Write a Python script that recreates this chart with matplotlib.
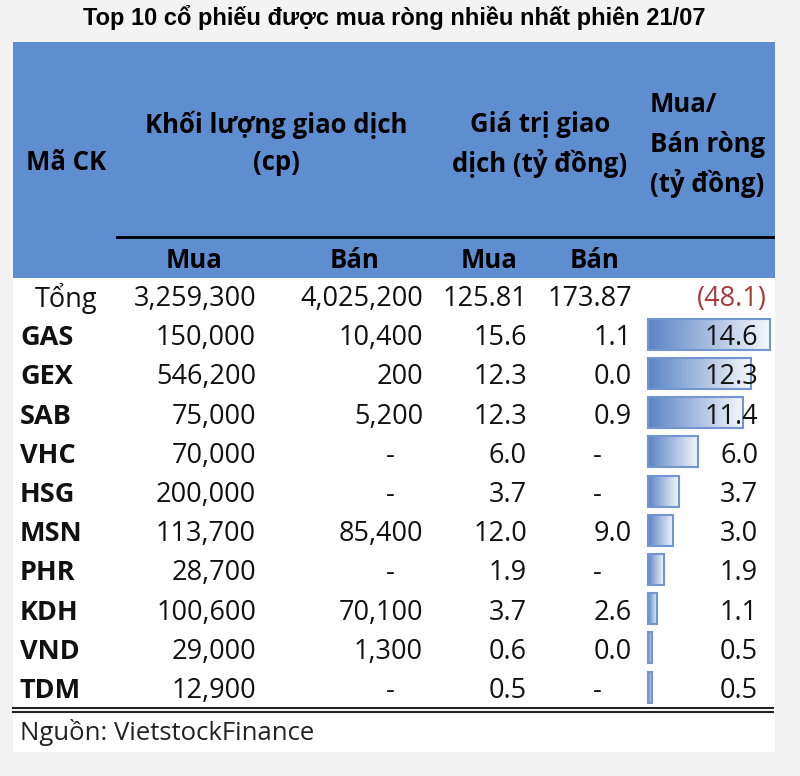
import numpy as np
import matplotlib.pyplot as plt
from matplotlib.colors import LinearSegmentedColormap

tickers = ['GAS', 'GEX', 'SAB', 'VHC', 'HSG', 'MSN', 'PHR', 'KDH', 'VND', 'TDM']
vol_buy = [150000, 546200, 75000, 70000, 200000, 113700, 28700, 100600, 29000, 12900]
vol_sell = [10400, 200, 5200, None, None, 85400, None, 70100, 1300, None]
val_buy = [15.6, 12.3, 12.3, 6.0, 3.7, 12.0, 1.9, 3.7, 0.6, 0.5]
val_sell = [1.1, 0.0, 0.9, None, None, 9.0, None, 2.6, 0.0, None]
net = [14.6, 12.3, 11.4, 6.0, 3.7, 3.0, 1.9, 1.1, 0.5, 0.5]
total = ['3,259,300', '4,025,200', '125.81', '173.87', '(48.1)']

title = 'Top 10 cổ phiếu được mua ròng nhiều nhất phiên 21/07'
source = 'Nguồn: VietstockFinance'

FONT = ['Open Sans', 'DejaVu Sans']
blue = '#5f8ed0'

fig = plt.figure(figsize=(8, 7.76), dpi=100)
fig.patch.set_facecolor('#f3f3f3')
ax = fig.add_axes([0, 0, 1, 1])
ax.set_xlim(0, 800)
ax.set_ylim(776, 0)
ax.axis('off')

# panel and header
ax.add_patch(plt.Rectangle((13, 42), 762, 710, facecolor='white', edgecolor='none'))
ax.add_patch(plt.Rectangle((13, 42), 762, 236, facecolor=blue, edgecolor='none'))
ax.plot([117, 773], [237, 237], color='black', lw=2)

ax.text(394, 18, title, ha='center', va='center', fontsize=17, fontweight='bold',
        family=['Liberation Sans', 'DejaVu Sans'])

hd = dict(fontsize=18.5, fontweight='bold', family=FONT, va='center')
ax.text(26, 163, 'Mã CK', ha='left', **hd)
ax.text(276, 125, 'Khối lượng giao dịch', ha='center', **hd)
ax.text(276, 163, '(cp)', ha='center', **hd)
ax.text(540, 125, 'Giá trị giao', ha='center', **hd)
ax.text(540, 163, 'dịch (tỷ đồng)', ha='center', **hd)
ax.text(650, 105, 'Mua/', ha='left', **hd)
ax.text(650, 145, 'Bán ròng', ha='left', **hd)
ax.text(650, 183, '(tỷ đồng)', ha='left', **hd)
for x, s in [(194, 'Mua'), (354, 'Bán'), (489, 'Mua'), (594, 'Bán')]:
    ax.text(x, 260, s, ha='center', **hd)

# data rows
td = dict(fontsize=19.5, family=FONT, va='center', color='#111111')
row_y = 299 + 39.2 * np.arange(len(tickers) + 1)

ax.text(66, row_y[0], 'Tổng', ha='center', **td)
for x, s in zip([256, 423, 527, 632], total[:4]):
    ax.text(x, row_y[0], s, ha='right', **td)
ax.text(767, row_y[0], total[4], ha='right', fontsize=19.5, family=FONT,
        va='center', color='#a83a3a')

cmap = LinearSegmentedColormap.from_list('g', ['#5a84c5', '#f5f7fc'])
grad = np.linspace(0, 1, 256).reshape(1, -1)
scale = 122 / max(net)
bars = ax.barh(row_y[1:] - 4, [v * scale for v in net], left=648, height=31,
               facecolor='none', edgecolor='#7396d2', linewidth=1.5, zorder=3)
for b in bars:
    x0, y0 = b.get_x(), b.get_y()
    im = ax.imshow(grad, cmap=cmap, aspect='auto', zorder=2,
                   extent=(x0, x0 + b.get_width(), y0 + b.get_height(), y0))
    im.set_clip_path(b)

def fmt_int(v):
    return '-' if v is None else f'{v:,}'

def fmt_f(v):
    return '-' if v is None else f'{v:.1f}'

for i, t in enumerate(tickers):
    y = row_y[i + 1]
    ax.text(20, y, t, ha='left', fontweight='bold', **td)
    ax.text(256, y, fmt_int(vol_buy[i]), ha='right', **td)
    if vol_sell[i] is None:
        ax.text(390, y, '-', ha='center', **td)
    else:
        ax.text(423, y, fmt_int(vol_sell[i]), ha='right', **td)
    ax.text(527, y, fmt_f(val_buy[i]), ha='right', **td)
    if val_sell[i] is None:
        ax.text(597, y, '-', ha='center', **td)
    else:
        ax.text(632, y, fmt_f(val_sell[i]), ha='right', **td)
    ax.text(758, y, fmt_f(net[i]), ha='right', zorder=4, **td)

# bottom double line and source
ax.plot([13, 773], [708, 708], color='#222222', lw=1.5)
ax.plot([13, 773], [712, 712], color='#222222', lw=1.5)
ax.text(20, 732, source, ha='left', fontsize=18.5, family=FONT, va='center', color='#222222')

fig.savefig('out.png', dpi=100, facecolor=fig.get_facecolor())
